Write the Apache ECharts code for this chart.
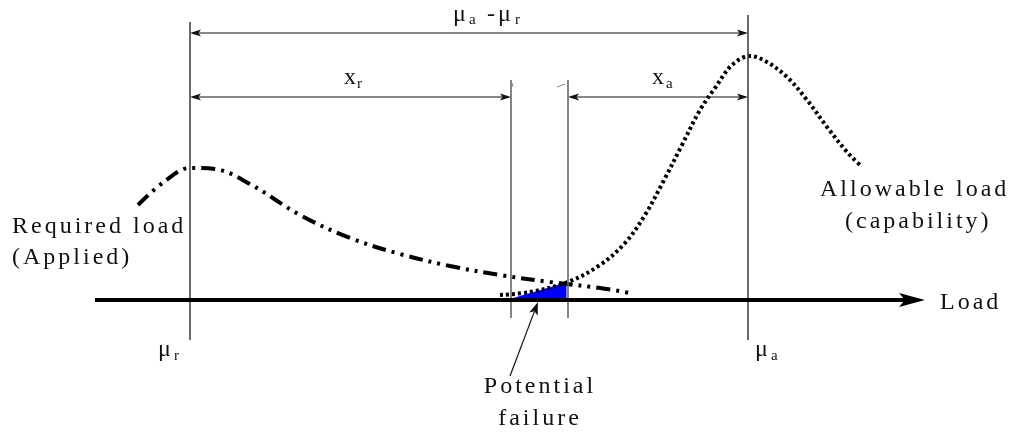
<!DOCTYPE html>
<html>
<head>
<meta charset="utf-8">
<script src="https://cdn.jsdelivr.net/npm/echarts@6/dist/echarts.min.js"></script>
<style>
html,body{margin:0;padding:0;background:#fff;}
#chart{width:1014px;height:433px;}
</style>
</head>
<body>
<div id="chart"></div>
<script>
// ---------- data (diagram units along the Load axis / height) ----------
const requiredCurve = [[138,205],[165,181],[190,168],[215,169],[250,184],[300,215],[350,238],[400,254],[450,266],[500,275],[550,282],[600,288],[630,293]];
const allowableCurve = [[500,295],[530,292],[568,282],[600,265],[625,243],[645,215],[663,182],[682,145],[700,110],[715,88],[732,65],[750,56],[767,62],[787,77],[807,100],[827,127],[847,152],[860,165]];
const failureRegion = [[508,300],[566,283],[566,300]];
const loadAxis = [[95,300,925,300]];
const dimensionArrows = [[190,33,748,33],[190,97,511,97],[568,97,748,97]];
const meanLines = [[190,22,190,340],[748,15,748,340]];
const boundaryLines = [[511,80,511,318],[568,80,568,318]];
const strayMarks = [[512,83,513,87],[557,87,565,84]];
const pointerArrow = [[510,376,538,302]];

// ---------- letter spacing for the spaced serif lettering ----------
['fillText','strokeText','measureText'].forEach(function(fn){
  const orig = CanvasRenderingContext2D.prototype[fn];
  CanvasRenderingContext2D.prototype[fn] = function(){
    if ('letterSpacing' in this) this.letterSpacing = '3px';
    return orig.apply(this, arguments);
  };
});

const FONT = '"Liberation Serif", "Times New Roman", serif';

function arrowHead(tip, tail, len, hw, notch, color){
  const dx = tip[0]-tail[0], dy = tip[1]-tail[1];
  const L = Math.hypot(dx,dy) || 1;
  const ux = dx/L, uy = dy/L, px = -uy, py = ux;
  const bx = tip[0]-ux*len, by = tip[1]-uy*len;
  return {
    type:'polygon',
    shape:{points:[[tip[0],tip[1]],[bx+px*hw,by+py*hw],[tip[0]-ux*(len-notch),tip[1]-uy*(len-notch)],[bx-px*hw,by-py*hw]]},
    style:{fill:color, stroke:null}
  };
}

function segmentSeries(name, data, opt){
  return {
    type:'custom', name:name, data:data, silent:true, z:opt.z||5,
    encode:{x:[0,2], y:[1,3]},
    renderItem:function(params, api){
      const a = api.coord([api.value(0), api.value(1)]);
      const b = api.coord([api.value(2), api.value(3)]);
      const children = [];
      let s = a.slice(), e = b.slice();
      const dx = b[0]-a[0], dy = b[1]-a[1], L = Math.hypot(dx,dy)||1;
      const ux = dx/L, uy = dy/L;
      if (opt.end){
        const k = opt.len - opt.notch;
        e = [b[0]-ux*k, b[1]-uy*k];
        children.push(arrowHead(b, a, opt.len, opt.hw, opt.notch, opt.color));
      }
      if (opt.start){
        const k = opt.len - opt.notch;
        s = [a[0]+ux*k, a[1]+uy*k];
        children.push(arrowHead(a, b, opt.len, opt.hw, opt.notch, opt.color));
      }
      children.unshift({type:'line', shape:{x1:s[0],y1:s[1],x2:e[0],y2:e[1]}, style:{stroke:opt.color, lineWidth:opt.width}});
      return {type:'group', children:children};
    }
  };
}

function label(text, x, y, size, align){
  return {type:'text', x:x, y:y, silent:true,
    style:{text:text, font: size+'px '+FONT, fill:'#111', align:align||'left', verticalAlign:'middle',
           textAlign:align||'left', textVerticalAlign:'middle'}};
}

const chart = echarts.init(document.getElementById('chart'), null, {renderer:'canvas'});
chart.setOption({
  animation:false,
  backgroundColor:'#fff',
  grid:{left:0,right:0,top:0,bottom:0},
  xAxis:{type:'value', min:0, max:1014, show:false},
  yAxis:{type:'value', min:0, max:433, inverse:true, show:false},
  series:[
    {type:'line', name:'Required load (Applied)', data:requiredCurve, smooth:0.35, symbol:'none', silent:true, z:4,
     lineStyle:{color:'#000', width:4, type:[14,6,3,6,3,6], cap:'butt'}},
    {type:'line', name:'Allowable load (capability)', data:allowableCurve, smooth:0.35, symbol:'none', silent:true, z:4,
     lineStyle:{color:'#000', width:4, type:[3,3], cap:'butt'}},
    {type:'custom', name:'Potential failure', data:failureRegion, silent:true, z:3,
     encode:{x:0, y:1},
     renderItem:function(params, api){
       if (params.dataIndex !== 0) return null;
       const pts = failureRegion.map(function(p){ return api.coord(p); });
       return {type:'polygon', shape:{points:pts}, style:{fill:'#0000ff', stroke:'#0000ff', lineWidth:1}};
     }},
    segmentSeries('Load axis', loadAxis, {color:'#000', width:4, end:true, len:26, hw:7, notch:6, z:6}),
    segmentSeries('dimensions', dimensionArrows, {color:'#111', width:1.2, start:true, end:true, len:11, hw:3.6, notch:2.5}),
    segmentSeries('means', meanLines, {color:'#444', width:1.6}),
    segmentSeries('boundaries', boundaryLines, {color:'#666', width:1.6}),
    segmentSeries('marks', strayMarks, {color:'#888', width:1}),
    segmentSeries('pointer', pointerArrow, {color:'#111', width:1.2, end:true, len:13, hw:4.5, notch:3})
  ],
  graphic:[
    label('\u03bc', 453, 15, 24), label('a', 469, 20, 15),
    label('-\u03bc', 487, 15, 24), label('r', 515, 20, 15),
    label('x', 344, 78, 24), label('r', 357, 84, 15),
    label('x', 652, 78, 24), label('a', 666, 84, 15),
    label('Required load', 12, 227, 24),
    label('(Applied)', 12, 258, 24),
    label('Allowable load', 820, 190, 24),
    label('(capability)', 845, 222, 24),
    label('Load', 940, 303, 24),
    label('\u03bc', 158, 350, 24), label('r', 174, 356, 15),
    label('\u03bc', 755, 350, 24), label('a', 771, 356, 15),
    label('Potential', 540, 387, 24, 'center'),
    label('failure', 540, 419, 24, 'center')
  ]
});
</script>
</body>
</html>
